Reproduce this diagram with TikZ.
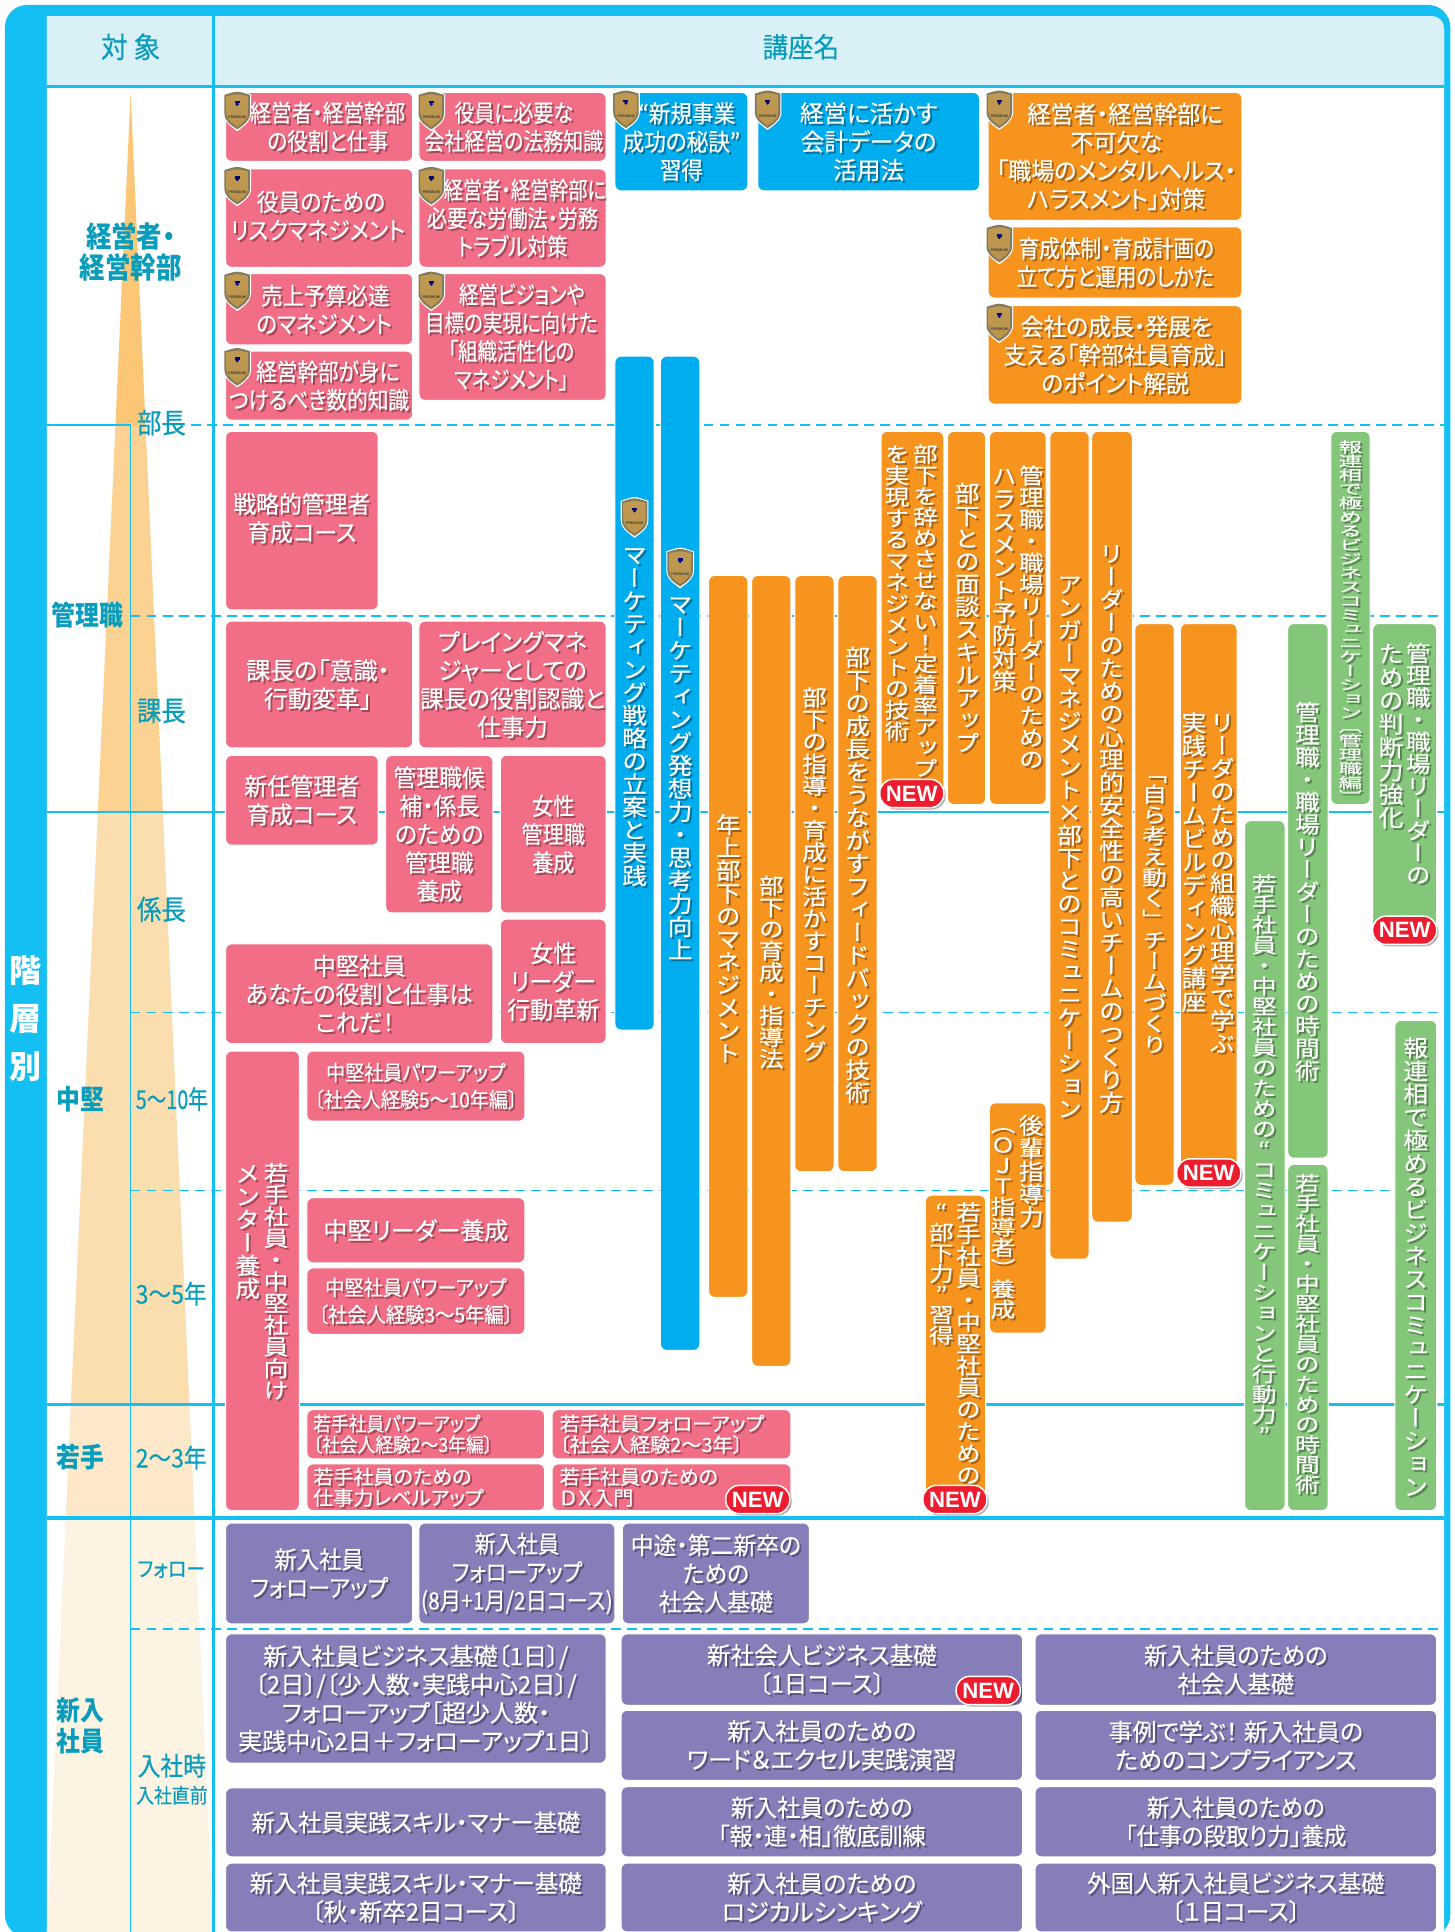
\documentclass[tikz,border=0pt]{standalone}
\usepackage{fontspec}
\usepackage{graphicx}
\newfontfamily\jpbase[RawFeature={+palt}]{Noto Sans CJK JP}
\newfontfamily\jpv[RawFeature={+vert},FakeBold=0.35]{Noto Sans CJK JP}
\newfontfamily\lat{Liberation Sans}
\definecolor{frameblue}{HTML}{14BFF3}
\definecolor{headfill}{HTML}{D9F0F7}
\definecolor{labteal}{HTML}{0A9DBB}
\definecolor{cpink}{HTML}{F26E86}
\definecolor{cblue}{HTML}{00ADEE}
\definecolor{corange}{HTML}{F7941E}
\definecolor{cgreen}{HTML}{84C67A}
\definecolor{cpurple}{HTML}{857EB9}
\definecolor{cred}{HTML}{ED1C2E}
\definecolor{tA}{HTML}{FBC777}
\definecolor{tB}{HTML}{FBD292}
\definecolor{tC}{HTML}{FBDEB0}
\definecolor{tD}{HTML}{FDE8CA}
\definecolor{tE}{HTML}{FDF3E2}
\definecolor{shrim}{HTML}{857A5C}
\definecolor{shA}{HTML}{BF9A52}
\definecolor{shB}{HTML}{F0DDA5}
\definecolor{shC}{HTML}{BA934A}
\newcommand\jpwb[4]{\jpbase\addfontfeature{FakeStretch=#2,FakeBold=#1}\fontsize{#3}{#4}\selectfont}
\newcommand\jpw[3]{\jpwb{.35}{#1}{#2}{#3}}
\newcommand\jpbold[3]{\jpbase\bfseries\addfontfeature{FakeStretch=#1}\fontsize{#2}{#3}\selectfont}
\newcount\vcnt
\newdimen\vstep
\newdimen\vwid
\def\vcount#1{\ifx#1\relax\let\vnext\relax\else\advance\vcnt by 1 \let\vnext\vcount\fi\vnext}
\def\vcell#1{\vbox to\vstep{\vss\hbox to\vwid{\hss\setbox0\hbox{\scalebox{1}[\vyscale]{#1}}\ht0=\vyscale\dimexpr.88em\relax\dp0=\vyscale\dimexpr.12em\relax\box0\hss}\vss}}
\def\vloop#1{\ifx#1\relax\let\vnext\relax\else\vcell{#1}\let\vnext\vloop\fi\vnext}
\tikzset{
  x=1pt,y=-1pt,
  boxshape/.style={rounded corners=5pt,inner sep=0pt,outer sep=0pt,draw=white,line width=.9pt},
  txt/.style={font=\jpw{.95}{19.5}{23},align=center,inner sep=0pt,text=white},
  sw/.style={font=\jpw{#1}{19.5}{23}},
  shadowtxt/.style={text=black,text opacity=0.3,xshift=1.6pt,yshift=-1.6pt},
  lab/.style={font=\jpbold{.88}{23.5}{25},align=center,inner sep=0pt,text=labteal},
  lab2/.style={font=\jpbold{.88}{22}{25},align=center,inner sep=0pt,text=labteal},
  lab3/.style={font=\jpwb{.45}{#1}{21}{25},align=center,inner sep=0pt,text=labteal},
  hsolid/.style={draw=frameblue,line width=2.2pt},
  hdash/.style={draw=frameblue,line width=1pt,dash pattern=on 8pt off 5pt},
  newpill/.style={fill=cred,draw=white,line width=1.2pt,rounded corners=11pt,minimum width=52pt,minimum height=23pt,inner sep=0pt,text=white,font=\lat\bfseries\fontsize{18}{18}\selectfont},
}
\newcommand\bx[6]{\pgfmathsetmacro\bw{#4-#2}\pgfmathsetmacro\bh{#5-#3}%
  \node[boxshape,fill=#6,minimum width=\bw pt,minimum height=\bh pt] (#1) at ({(#2+#4)/2},{(#3+#5)/2}) {};}
\newcommand\tx[5][]{\node[txt,#1,shadowtxt] at (#3,#4) {#5};\node[txt,#1] (#2-t) at (#3,#4) {#5};}
\newcommand\bxt[8][]{\bx{#2}{#3}{#4}{#5}{#6}{#7}\tx[#1]{#2}{{(#3+#5)/2}}{{(#4+#6)/2}}{#8}}
\newcommand\vt[6][20]{\vcnt=0 \vcount#6\relax
  \vstep=\dimexpr(#5pt-#4pt)/\vcnt\relax
  \pgfmathsetmacro\vyscale{min(1,((#5-#4)/\the\vcnt)/#1)}%
  \node[inner sep=0pt,text=black,text opacity=0.3,font=\jpv\fontsize{#1}{#1}\selectfont,xshift=1.6pt,yshift=-1.6pt] at (#3,{(#4+#5)/2}) {\vwid=1.2em\vbox{\offinterlineskip\vloop#6\relax}};
  \node[inner sep=0pt,text=white,font=\jpv\fontsize{#1}{#1}\selectfont] (#2) at (#3,{(#4+#5)/2}) {\vwid=1.2em\vbox{\offinterlineskip\vloop#6\relax}};}
\newcommand\newb[3]{\node[fill=black,fill opacity=.3,rounded corners=11pt,minimum width=52pt,minimum height=23pt,inner sep=0pt] at (#2+1.5,#3+1.5) {};
  \node[newpill] (#1) at (#2,#3) {NEW};}
\newcommand\shield[3]{\begin{scope}[shift={(#2,#3)},xscale=.9]
  \fill[white] (-12.5,-13.5) .. controls (-6,-15.5) and (-3,-16.5) .. (0,-16.5) .. controls (3,-16.5) and (6,-15.5) .. (12.5,-13.5) -- (12.5,2) .. controls (12.5,9) and (5,13) .. (0,16.5) .. controls (-5,13) and (-12.5,9) .. (-12.5,2) -- cycle;
  \fill[shrim] (-11.5,-13) .. controls (-6,-14.5) and (-3,-15.5) .. (0,-15.5) .. controls (3,-15.5) and (6,-14.5) .. (11.5,-13) -- (11.5,2) .. controls (11.5,8.5) and (5,12) .. (0,15) .. controls (-5,12) and (-11.5,8.5) .. (-11.5,2) -- cycle;
  \shade[top color=shA,middle color=shB,bottom color=shC] (-10,-11.8) .. controls (-5,-12.8) and (-2,-13.5) .. (0,-13.5) .. controls (2,-13.5) and (5,-12.8) .. (10,-11.8) -- (10,1.5) .. controls (10,7) and (4,10.5) .. (0,13) .. controls (-4,10.5) and (-10,7) .. (-10,1.5) -- cycle;
  \fill[black!55!blue] (0,-5.5) circle (1.6pt);
  \fill[black!55!blue] (-2.2,-8) -- (2.2,-8) -- (2.2,-6) -- (-2.2,-6) -- cycle;
  \node[inner sep=0pt,font=\lat\bfseries\fontsize{3}{3}\selectfont,text=black!75] (#1) at (0,5) {PREMIUM};
  \end{scope}}
\begin{document}
\begin{tikzpicture}
\useasboundingbox (0,0) rectangle (1180.06,1568);
\fill[white] (0,0) rectangle (1180.06,1568);
% frame
\fill[frameblue,rounded corners=18pt] (4,4) rectangle (1177,1572);
\fill[white] (38,13) -- (1160,13) .. controls (1168,13) and (1172,17) .. (1172,25) -- (1172,1572) -- (38,1572) -- cycle;
\fill[headfill] (38,13) -- (1160,13) .. controls (1168,13) and (1172,17) .. (1172,25) -- (1172,69) -- (38,69) -- cycle;
% triangle, in bands
\begin{scope}
\clip (106,75) -- (173,1568) -- (38,1568) -- cycle;
\fill[tE] (30,1232) rectangle (180,1570);
\fill[tD] (30,1140) rectangle (180,1232);
\fill[tC] (30,659) rectangle (180,1140);
\fill[tB] (30,345) rectangle (180,659);
\fill[tA] (30,70) rectangle (180,345);
\end{scope}
% rules
\draw[hsolid] (38,70) -- (1172,70);
\draw[hsolid] (173,13) -- (173,1572);
\draw[draw=frameblue,line width=.9pt] (106,345) -- (106,1572);
\draw[hsolid] (38,345) -- (106,345);
\draw[hdash] (155,345) -- (1172,345);
\draw[hdash] (106,500) -- (1172,500);
\draw[hsolid] (38,659) -- (1172,659);
\draw[hdash] (106,822) -- (1172,822);
\draw[hdash] (106,966) -- (1172,966);
\draw[hsolid] (38,1140) -- (1172,1140);
\draw[hsolid,line width=2.8pt] (38,1232) -- (1172,1232);
\draw[hdash] (106,1322) -- (1172,1322);
% left
\node[inner sep=0pt,text=white,font=\jpbold{1}{26}{26}] (k1) at (21,788) {階};
\node[inner sep=0pt,text=white,font=\jpbold{1}{26}{26}] (k2) at (21,827) {層};
\node[inner sep=0pt,text=white,font=\jpbold{1}{26}{26}] (k3) at (21,866) {別};
% header labels
\node[lab,font=\jpwb{.2}{.92}{23.5}{25}] (h1) at (106,38) {対 象};
\node[lab,font=\jpwb{.2}{.92}{22.5}{25}] (h2) at (650,38) {講座名};
\node[lab] (l1) at (106,204.5) {経営者・\\経営幹部};
\node[lab3=.88,font=\jpwb{.6}{.88}{22.5}{25}] (l2) at (131,343) {部長};
\node[lab2] (l3) at (71,499) {管理職};
\node[lab3=.88,font=\jpwb{.6}{.88}{22.5}{25}] (l4) at (131,577) {課長};
\node[lab3=.88,font=\jpwb{.6}{.88}{22.5}{25}] (l5) at (131,738) {係長};
\node[lab2] (l6) at (65,892) {中堅};
\node[lab3=.76] (l7) at (139.5,892) {5〜10年};
\node[lab3=.88] (l8) at (139,1050) {3〜5年};
\node[lab2] (l9) at (65,1183) {若手};
\node[lab3=.88] (l10) at (139,1183) {2〜3年};
\node[lab2] (l11) at (65,1401) {新入\\社員};
\node[lab3=.88,font=\jpwb{.45}{.88}{17.5}{20}] (l12) at (139,1274) {フォロー};
\node[lab3=.88,font=\jpwb{.6}{.88}{21}{25}] (l13) at (139.5,1433) {入社時};
\node[lab3=.88,font=\jpwb{.45}{.88}{16.5}{20}] (l14) at (139.5,1457) {入社直前};
% pink top
\bxt[sw=.86,xshift=7pt]{p1}{183}{75}{335}{131}{cpink}{経営者・経営幹部\\の役割と仕事}
\bxt[sw=.83,xshift=1pt]{p2}{340}{75}{492}{131}{cpink}{役員に必要な\\会社経営の法務知識}
\bxt[sw=.91,yshift=2pt,xshift=-1pt]{p3}{183}{137}{335}{217}{cpink}{\hspace*{5pt}役員のための\\リスクマネジメント}
\bxt[sw=.84]{p4}{340}{137}{492}{217}{cpink}{\hspace*{20pt}\scalebox{.95}[1]{経営者・経営幹部に}\\必要な労働法・労務\\トラブル対策}
\bxt[sw=.89,xshift=4pt]{p5}{183}{222}{335}{280}{cpink}{\hspace*{2pt}売上予算必達\\のマネジメント}
\bxt[sw=.81,xshift=-1pt]{p6}{340}{222}{492}{325}{cpink}{\hspace*{17pt}経営ビジョンや\\目標の実現に向けた\\「組織活性化の\\マネジメント」}
\bxt[sw=.86]{p7}{183}{285}{335}{341}{cpink}{\hspace*{14pt}経営幹部が身に\\つけるべき数的知識}
\bxt[sw=.9]{b1}{499}{75}{607}{155}{cblue}{\hspace*{9pt}“新規事業\\成功の秘訣”\\習得}
\bxt[sw=.98]{b2}{615}{75}{795}{155}{cblue}{経営に活かす\\会計データの\\活用法}
\bxt[sw=.96,xshift=1pt]{o1}{802}{75}{1008}{179}{corange}{\hspace*{14pt}経営者・経営幹部に\\不可欠な\\「職場のメンタルヘルス・\\ハラスメント」対策}
\bxt[sw=.86]{o2}{802}{184}{1008}{242}{corange}{\hspace*{2pt}育成体制・育成計画の\\立て方と運用のしかた}
\bxt[sw=.95]{o3}{802}{248}{1008}{328}{corange}{\hspace*{2pt}会社の成長・発展を\\支える「幹部社員育成」\\のポイント解説}
% pink mid
\bxt[sw=.95,yshift=2pt]{p8}{183}{350}{307}{495}{cpink}{戦略的管理者\\育成コース}
\bxt[sw=1.0,xshift=-1pt]{p9}{183}{504}{335}{607}{cpink}{課長の「意識・\\行動変革」}
\bxt[sw=.98]{p10}{340}{504}{492}{607}{cpink}{プレイングマネ\\ジャーとしての\\課長の役割認識と\\仕事力}
\bxt[sw=.96]{p11}{183}{613}{307}{686}{cpink}{新任管理者\\育成コース}
\bxt[sw=.95]{p12}{313}{613}{400}{741}{cpink}{管理職候\\補・係長\\のための\\管理職\\養成}
\bxt[sw=.88]{p13}{406}{613}{492}{741}{cpink}{女性\\管理職\\養成}
\bxt[sw=.97]{p14}{183}{766}{400}{847}{cpink}{中堅社員\\あなたの役割と仕事は\\これだ！\hspace*{7pt}}
\bxt[sw=.96]{p15}{406}{746}{492}{847}{cpink}{女性\\リーダー\\行動革新}
\bx{p16}{183}{853}{243}{1226}{cpink}
\vt{p16a}{224}{943}{1137}{若手社員・中堅社員向け}
\vt{p16b}{201}{943}{1055}{メンター養成}
\bxt[font=\jpw{.91}{17}{22}]{p17}{249}{853}{426}{910}{cpink}{中堅社員パワーアップ\\〔社会人経験5〜10年編〕}
\bxt[sw=1.0]{p18}{249}{972}{426}{1025}{cpink}{中堅リーダー養成}
\bxt[font=\jpw{.92}{17}{22}]{p19}{249}{1029}{426}{1083}{cpink}{中堅社員パワーアップ\\〔社会人経験3〜5年編〕}
\bx{p20}{249}{1144}{442}{1184}{cpink}\tx[anchor=west,align=left,font=\jpw{.9}{16}{17}]{p20}{254}{1164}{若手社員パワーアップ\\〔社会人経験2〜3年編〕}
\bx{p21}{448}{1144}{642}{1184}{cpink}\tx[anchor=west,align=left,font=\jpw{1.02}{16}{17}]{p21}{454}{1164}{若手社員フォローアップ\\〔社会人経験2〜3年〕}
\bx{p22}{249}{1188}{442}{1226}{cpink}\tx[anchor=west,align=left,font=\jpw{1.02}{16}{17}]{p22}{254}{1207}{若手社員のための\\仕事力レベルアップ}
\bx{p23}{448}{1188}{642}{1226}{cpink}\tx[anchor=west,align=left,font=\jpw{1.02}{16}{17}]{p23}{454}{1207}{若手社員のための\\ＤＸ入門}
% blue vertical
\bx{b3}{499}{289}{531}{836}{cblue}
\vt{b3t}{515}{441}{720}{マーケティング戦略の立案と実践}
\bx{b4}{536}{289}{568}{1096}{cblue}
\vt{b4t}{552}{481}{780}{マーケティング発想力・思考力向上}
% orange vertical
\bx{o4}{575}{467}{607}{1053}{corange}\vt{o4t}{591}{660}{864}{年上部下のマネジメント}
\bx{o5}{610}{467}{642}{1109}{corange}\vt{o5t}{626}{710}{868}{部下の育成・指導法}
\bx{o6}{645}{467}{677}{951}{corange}\vt{o6t}{661}{557}{862}{部下の指導・育成に活かすコーチング}
\bx{o7}{680}{467}{712}{951}{corange}\vt{o7t}{696}{524}{896}{部下の成長をうながすフィードバックの技術}
\bx{o8}{715}{350}{766}{653}{corange}
\vt{o8a}{751}{360}{632}{部下を辞めさせない！定着率アップ}
\vt{o8b}{728}{360}{602}{を実現するマネジメントの技術}
\bx{o9}{769}{350}{800}{653}{corange}\vt{o9t}{785}{391}{612}{部下との面談スキルアップ}
\bx{o10}{803}{350}{849}{653}{corange}
\vt{o10a}{837}{377}{625}{管理職・職場リーダーのための}
\vt{o10b}{815}{377}{562}{ハラスメント予防対策}
\bx{o11}{852}{350}{884}{1022}{corange}\vt{o11t}{868}{465}{909}{アンガーマネジメント×部下とのコミュニケーション}
\bx{o12}{886}{350}{919}{992}{corange}\vt{o12t}{902}{440}{904}{リーダーのための心理的安全性の高いチームのつくり方}
\bx{o13}{921}{506}{953}{962}{corange}\vt{o13t}{937}{619}{856}{「自ら考え動く」チームづくり}
\bx{o14}{958}{506}{1004}{962}{corange}
\vt{o14a}{992}{577}{856}{リーダのための組織心理学で学ぶ}
\vt{o14b}{969}{577}{822}{実践チームビルディング講座}
\bx{o15}{803}{895}{849}{1082}{corange}
\vt{o15a}{837}{904}{997}{後輩指導力}
\vt{o15b}{814}{904}{1071}{（ＯＪＴ指導者）養成}
\bx{o16}{751}{970}{800}{1226}{corange}
\vt{o16a}{786}{975}{1206}{若手社員・中堅社員のための}
\vt{o16b}{764}{975}{1092}{“部下力”習得}
% green
\bx{g1}{1010}{666}{1043}{1226}{cgreen}\vt{g1t}{1026}{709}{1173}{若手社員・中堅社員のための“コミュニケーションと行動力”}
\bx{g2}{1045}{506}{1078}{940}{cgreen}\vt{g2t}{1061}{569}{878}{管理職・職場リーダーのための時間術}
\bx{g3}{1045}{945}{1078}{1226}{cgreen}\vt{g3t}{1061}{952}{1213}{若手社員・中堅社員のための時間術}
\bx{g4}{1080}{350}{1112}{653}{cgreen}\vt[19]{g4t}{1096}{357}{652}{報連相で極めるビジネスコミュニケーション〔管理職編〕}
\bx{g5}{1114}{506}{1166}{765}{cgreen}
\vt{g5a}{1151}{521}{719}{管理職・職場リーダーの}
\vt{g5b}{1129}{521}{673}{ための判断力強化}
\bx{g6}{1132}{828}{1166}{1226}{cgreen}\vt{g6t}{1149}{841}{1216}{報連相で極めるビジネスコミュニケーション}
% purple
\bxt[sw=.93]{v1}{183}{1236}{335}{1318}{cpurple}{新入社員\\フォローアップ}
\bxt[sw=.88]{v2}{340}{1236}{499}{1318}{cpurple}{新入社員\\フォローアップ\\(8月+1月/2日コース)}
\bxt[sw=.95]{v3}{505}{1236}{657}{1318}{cpurple}{中途・第二新卒の\\ための\\社会人基礎}
\bxt[sw=1.0]{v4}{183}{1326}{492}{1431}{cpurple}{新入社員ビジネス基礎〔1日〕/\\〔2日〕/〔少人数・実践中心2日〕/\\フォローアップ［超少人数・\\実践中心2日＋フォローアップ1日〕}
\bxt[sw=.97]{v5}{183}{1451}{492}{1507}{cpurple}{新入社員実践スキル・マナー基礎}
\bxt[sw=.98]{v6}{183}{1512}{492}{1568}{cpurple}{新入社員実践スキル・マナー基礎\\〔秋・新卒2日コース〕}
\bxt[sw=.98]{v7}{504}{1326}{830}{1384}{cpurple}{新社会人ビジネス基礎\\〔1日コース〕}
\bxt[sw=1.0]{v8}{504}{1388}{830}{1445}{cpurple}{新入社員のための\\ワード＆エクセル実践演習}
\bxt[sw=.96]{v9}{504}{1450}{830}{1507}{cpurple}{新入社員のための\\「報・連・相」徹底訓練}
\bxt[sw=1.0]{v10}{504}{1512}{830}{1568}{cpurple}{新入社員のための\\ロジカルシンキング}
\bxt[sw=.97]{v11}{840}{1326}{1166}{1384}{cpurple}{新入社員のための\\社会人基礎}
\bxt[sw=1.0]{v12}{840}{1388}{1166}{1445}{cpurple}{事例で学ぶ！\hspace{5pt}新入社員の\\ためのコンプライアンス}
\bxt[sw=.94]{v13}{840}{1450}{1166}{1507}{cpurple}{新入社員のための\\「仕事の段取り力」養成}
\bxt[sw=.97]{v14}{840}{1512}{1166}{1568}{cpurple}{外国人新入社員ビジネス基礎\\〔１日コース〕}
% shields
\shield{s1}{192.5}{90}
\shield{s2}{350}{90}
\shield{s3}{192.5}{151}
\shield{s4}{350}{151}
\shield{s5}{192.5}{236}
\shield{s6}{350}{236}
\shield{s7}{192.5}{298}
\shield{s8}{508}{89}
\shield{s9}{623}{89}
\shield{s10}{811}{89}
\shield{s11}{811}{198}
\shield{s12}{811}{262}
\shield{s13}{515}{420}
\shield{s14}{552}{461}
% NEW
\newb{n1}{740}{644}
\newb{n2}{1140}{755}
\newb{n3}{981}{952}
\newb{n4}{775}{1217}
\newb{n5}{615}{1217}
\newb{n6}{802}{1372}
\end{tikzpicture}
\end{document}
